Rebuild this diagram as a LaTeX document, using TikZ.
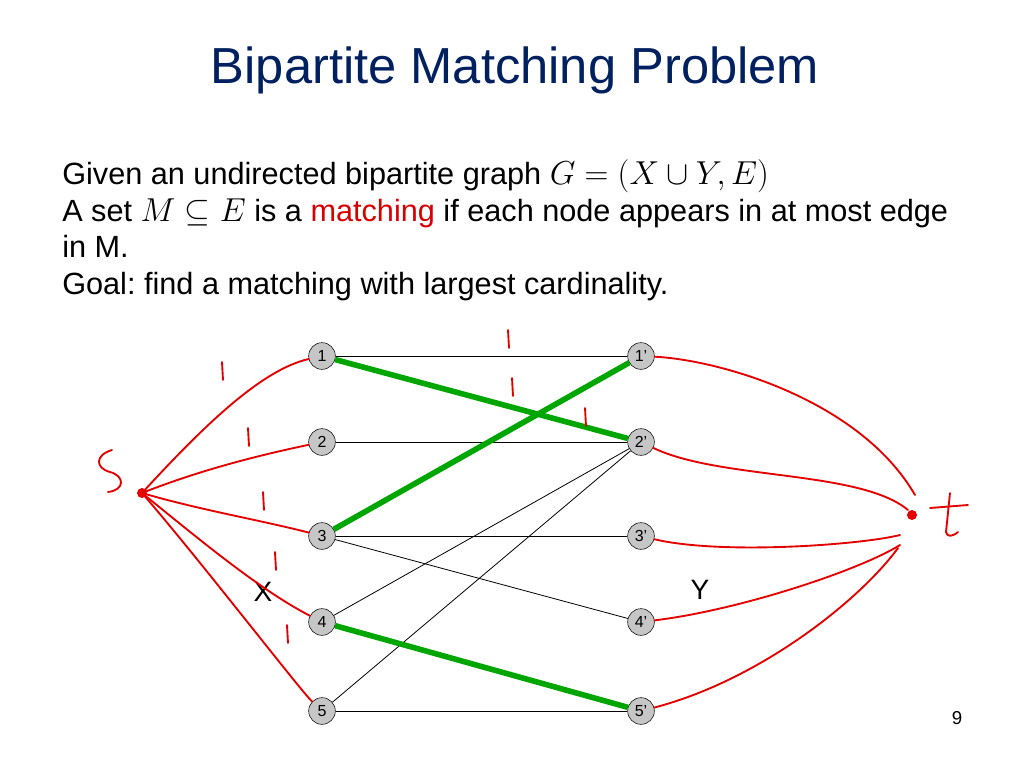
\documentclass[tikz,border=0pt]{standalone}
\usepackage{fontspec}
\setmainfont{Liberation Sans}
\begin{document}
\frenchspacing
\begin{tikzpicture}[x=0.75pt,y=-0.75pt,
  vtx/.style={circle,draw=black,fill=gray!45,minimum size=20pt,inner sep=0pt,font=\fontsize{12}{12}\selectfont},
  thin/.style={black,line width=0.6pt},
  match/.style={green!65!black,line width=4.2pt},
  red/.style={draw=red!90!black,line width=1.4pt,line cap=round},
  body/.style={anchor=base west,inner sep=0pt,font=\fontsize{23}{26}\selectfont}]
\useasboundingbox (0,0) rectangle (1024,768);
\node[font=\fontsize{38}{44}\selectfont,text={rgb,255:red,0;green,32;blue,96}] (title) at (515,70) {Bipartite Matching Problem};
\node[body] (l1) at (62,184) {Given an undirected bipartite graph $G=(X\cup Y,E)$};
\node[body] (l2) at (62,221) {A set $M\subseteq E$ is a \textcolor{red!85!black}{matching} if each node appears in at most edge};
\node[body] (l3) at (62,257) {in M.};
\node[body] (l4) at (62,294) {Goal: find a matching with largest cardinality.};
\foreach \i/\y in {1/356,2/442,3/536,4/622,5/711}{
  \node[vtx] (a\i) at (322,\y) {\i};
  \node[vtx] (b\i) at (641,\y) {\i'};
}
\draw[thin] (a1)--(b1); \draw[thin] (a2)--(b2); \draw[thin] (a3)--(b3); \draw[thin] (a5)--(b5);
\draw[thin] (a3)--(b4); \draw[thin] (a4)--(b2); \draw[thin] (a5)--(b2);
\draw[match] (a1)--(b2); \draw[match] (a3)--(b1); \draw[match] (a4)--(b5);
\node[font=\fontsize{21}{21}\selectfont] (X) at (263,592) {X};
\node[font=\fontsize{21}{21}\selectfont] (Y) at (700,590) {Y};
\node[font=\fontsize{14}{14}\selectfont] (pg) at (957,718) {9};
\coordinate (s) at (142,493);
\coordinate (t) at (912,515);
\fill[red!90!black] (s) circle (5);
\fill[red!90!black] (t) circle (5);
\draw[red] (112,450) .. controls (95,455) and (95,468) .. (110,472) .. controls (125,476) and (125,490) .. (108,492);
\draw[red] (950,493) -- (946,532) .. controls (947,537) and (952,537) .. (958,532);
\draw[red] (930,508) -- (968,505);
\draw[red] (s) .. controls (200,430) and (260,370) .. (a1);
\draw[red] (s) .. controls (200,470) and (260,455) .. (a2);
\draw[red] (s) .. controls (200,510) and (260,520) .. (a3);
\draw[red] (s) .. controls (200,540) and (260,590) .. (a4);
\draw[red] (s) .. controls (200,560) and (300,690) .. (a5);
\draw[red] (b1) .. controls (720,360) and (860,400) .. (915,495);
\draw[red] (b2) .. controls (720,480) and (860,470) .. (908,510);
\draw[red] (b3) .. controls (720,555) and (860,545) .. (900,535);
\draw[red] (b4) .. controls (740,610) and (860,570) .. (900,545);
\draw[red] (b5) .. controls (760,680) and (860,600) .. (898,548);
\foreach \x/\y in {222/362,248/428,263/492,275/552,287/625,508/330,512/378,585/408}{
  \draw[red] (\x,\y) -- (\x+1,\y+18);
}
\end{tikzpicture}
\end{document}
